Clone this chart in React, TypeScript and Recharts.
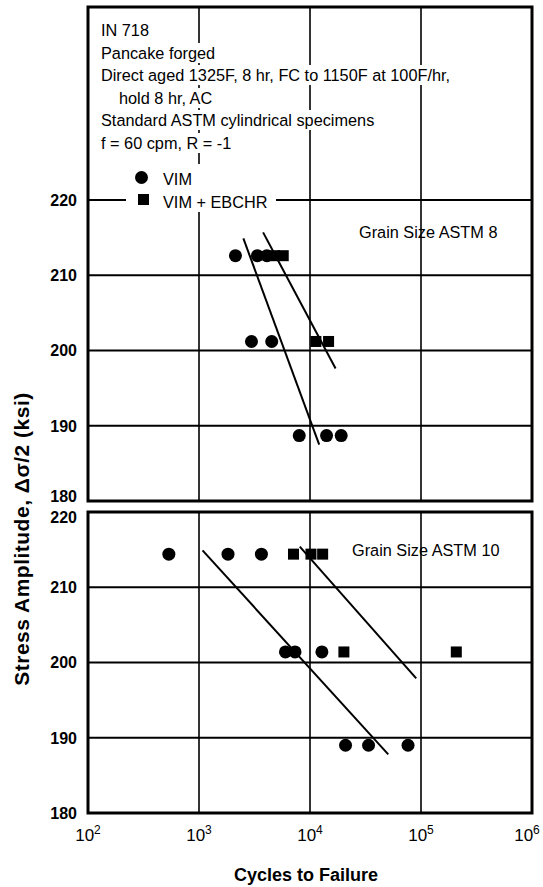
import React from "react";
import {
  ScatterChart,
  Scatter,
  XAxis,
  YAxis,
  ReferenceLine,
  ReferenceArea,
} from "recharts";

// x = cycles to failure (log scale), y = stress amplitude (ksi)
const decadeTicks = [100, 1000, 10000, 100000, 1000000];
const decadeExp = ["2", "3", "4", "5", "6"];
const stressTicks = [180, 190, 200, 210, 220];
const gridStress = [190, 200, 210, 220];
const gridCycles = [1000, 10000, 100000];

const noteLines = [
  "IN 718",
  "Pancake forged",
  "Direct aged 1325F, 8 hr, FC to 1150F at 100F/hr,",
  "hold 8 hr, AC",
  "Standard ASTM cylindrical specimens",
  "f = 60 cpm, R = -1",
];

// Grain size ASTM 8
const vim8 = [
  { n: 2130, s: 212.6 },
  { n: 3360, s: 212.6 },
  { n: 4090, s: 212.6 },
  { n: 2970, s: 201.2 },
  { n: 4520, s: 201.2 },
  { n: 8000, s: 188.7 },
  { n: 14100, s: 188.7 },
  { n: 19100, s: 188.7 },
];
const ebchr8 = [
  { n: 4800, s: 212.6 },
  { n: 5740, s: 212.6 },
  { n: 11300, s: 201.2 },
  { n: 14700, s: 201.2 },
];
const vim8Fit = [
  { n: 2510, s: 214.9 },
  { n: 12100, s: 187.5 },
];
const ebchr8Fit = [
  { n: 3780, s: 215.7 },
  { n: 17000, s: 197.6 },
];

// Grain size ASTM 10
const vim10 = [
  { n: 535, s: 214.4 },
  { n: 1825, s: 214.4 },
  { n: 3650, s: 214.4 },
  { n: 6010, s: 201.4 },
  { n: 7330, s: 201.4 },
  { n: 12800, s: 201.4 },
  { n: 20900, s: 189.0 },
  { n: 33700, s: 189.0 },
  { n: 76400, s: 189.0 },
];
const ebchr10 = [
  { n: 7100, s: 214.4 },
  { n: 10200, s: 214.4 },
  { n: 13000, s: 214.4 },
  { n: 20200, s: 201.4 },
  { n: 208000, s: 201.4 },
];
const vim10Fit = [
  { n: 1076, s: 214.9 },
  { n: 50700, s: 187.8 },
];
const ebchr10Fit = [
  { n: 8090, s: 215.4 },
  { n: 90600, s: 197.9 },
];

const FONT = "'Liberation Sans', Arial, sans-serif";
const TOP_MAX = 245.65;

const Dot = (p: any) => <circle cx={p.cx} cy={p.cy} r={6.5} fill="#000" />;
const Sq = (p: any) => (
  <rect x={p.cx - 5.5} y={p.cy - 5.5} width={11} height={11} fill="#000" />
);
const NoMark = () => <g />;

const DecadeTick = (p: any) => {
  const i = decadeTicks.indexOf(p.payload.value);
  // last label sits on the page edge, pull it in a little
  const dx = i === decadeTicks.length - 1 ? -5 : 0;
  return (
    <text
      x={p.x + dx}
      y={p.y + 26}
      textAnchor="middle"
      fontFamily={FONT}
      fontSize={17}
      fill="#000"
    >
      10
      <tspan dy={-7} fontSize={12}>
        {decadeExp[i]}
      </tspan>
    </text>
  );
};

// y tick; edge labels nudged so the two panels' 180 / 220 don't collide
const StressTick = (p: any) => {
  const v = p.payload.value;
  let dy = 0;
  if (p.panel === "top" && v === 180) dy = -5;
  if (p.panel === "bottom" && v === 220) dy = 5;
  return (
    <text
      x={p.x}
      y={p.y + dy}
      dy="0.36em"
      textAnchor="end"
      fontFamily={FONT}
      fontSize={16}
      fontWeight={700}
      fill="#000"
    >
      {v}
    </text>
  );
};

function Panel(props: {
  name: string;
  height: number;
  top: number;
  bottom: number;
  yMax: number;
  showX: boolean;
  vim: any[];
  ebchr: any[];
  vimFit: any[];
  ebchrFit: any[];
}) {
  return (
    <ScatterChart
      width={543}
      height={props.height}
      margin={{ top: props.top, right: 11, bottom: props.bottom, left: 0 }}
      style={{ overflow: "visible" }}
    >
      <XAxis
        dataKey="n"
        type="number"
        scale="log"
        domain={[100, 1000000]}
        ticks={decadeTicks}
        allowDataOverflow
        hide={!props.showX}
        axisLine={false}
        tickLine={false}
        tickSize={0}
        height={30}
        tick={<DecadeTick />}
        interval={0}
      />
      <YAxis
        dataKey="s"
        type="number"
        domain={[180, props.yMax]}
        ticks={stressTicks}
        allowDataOverflow
        width={88}
        axisLine={false}
        tickLine={false}
        tickSize={0}
        tickMargin={11}
        tick={<StressTick panel={props.name} />}
        interval={0}
      />
      {gridStress.map((v) => (
        <ReferenceLine key={"h" + v} y={v} stroke="#000" strokeWidth={2} />
      ))}
      {gridCycles.map((v) => (
        <ReferenceLine key={"v" + v} x={v} stroke="#000" strokeWidth={1.6} />
      ))}
      <ReferenceArea
        x1={100}
        x2={1000000}
        y1={180}
        y2={props.yMax}
        fill="none"
        fillOpacity={0}
        stroke="#000"
        strokeWidth={3}
      />
      <Scatter
        data={props.vimFit}
        line={{ stroke: "#000", strokeWidth: 2 }}
        shape={NoMark}
        isAnimationActive={false}
      />
      <Scatter
        data={props.ebchrFit}
        line={{ stroke: "#000", strokeWidth: 2 }}
        shape={NoMark}
        isAnimationActive={false}
      />
      <Scatter data={props.vim} shape={Dot} isAnimationActive={false} />
      <Scatter data={props.ebchr} shape={Sq} isAnimationActive={false} />
    </ScatterChart>
  );
}

const textStyle: React.CSSProperties = {
  position: "absolute",
  fontFamily: FONT,
  fontSize: 16.3,
  color: "#000",
  whiteSpace: "nowrap",
  lineHeight: "20px",
};

export default function App() {
  return (
    <div
      style={{
        position: "absolute",
        left: 0,
        top: 0,
        width: 543,
        height: 887,
        background: "#fff",
      }}
    >
      <div style={{ position: "absolute", left: 0, top: 505 }}>
        <Panel
          name="bottom"
          height={382}
          top={7}
          bottom={44}
          yMax={220}
          showX={true}
          vim={vim10}
          ebchr={ebchr10}
          vimFit={vim10Fit}
          ebchrFit={ebchr10Fit}
        />
      </div>
      <div style={{ position: "absolute", left: 0, top: 0 }}>
        <Panel
          name="top"
          height={512}
          top={7}
          bottom={11}
          yMax={TOP_MAX}
          showX={false}
          vim={vim8}
          ebchr={ebchr8}
          vimFit={vim8Fit}
          ebchrFit={ebchr8Fit}
        />
      </div>

      {noteLines.map((t, i) => (
        <div
          key={t}
          style={{
            ...textStyle,
            left: i === 3 ? 119 : 101,
            top: 20 + i * 22.6,
            background: "#fff",
          }}
        >
          {t}
        </div>
      ))}

      {/* legend */}
      <div
        style={{
          position: "absolute",
          left: 126,
          top: 164,
          width: 150,
          height: 48,
          background: "#fff",
        }}
      />
      <div
        style={{
          position: "absolute",
          left: 135,
          top: 171,
          width: 13,
          height: 13,
          borderRadius: "50%",
          background: "#000",
        }}
      />
      <div style={{ ...textStyle, left: 163, top: 169 }}>VIM</div>
      <div
        style={{
          position: "absolute",
          left: 138,
          top: 194,
          width: 11,
          height: 11,
          background: "#000",
        }}
      />
      <div style={{ ...textStyle, left: 163, top: 192 }}>VIM + EBCHR</div>

      <div style={{ ...textStyle, left: 359, top: 222 }}>Grain Size ASTM 8</div>
      <div style={{ ...textStyle, left: 352, top: 540 }}>Grain Size ASTM 10</div>

      <div
        style={{
          ...textStyle,
          fontWeight: 700,
          fontSize: 21,
          letterSpacing: 0.5,
          left: 22,
          top: 539,
          transform: "translate(-50%, -50%) rotate(-90deg)",
        }}
      >
        Stress Amplitude, Δσ/2 (ksi)
      </div>
      <div
        style={{
          ...textStyle,
          fontWeight: 700,
          fontSize: 18,
          left: 306,
          top: 865,
          transform: "translateX(-50%)",
        }}
      >
        Cycles to Failure
      </div>
    </div>
  );
}
